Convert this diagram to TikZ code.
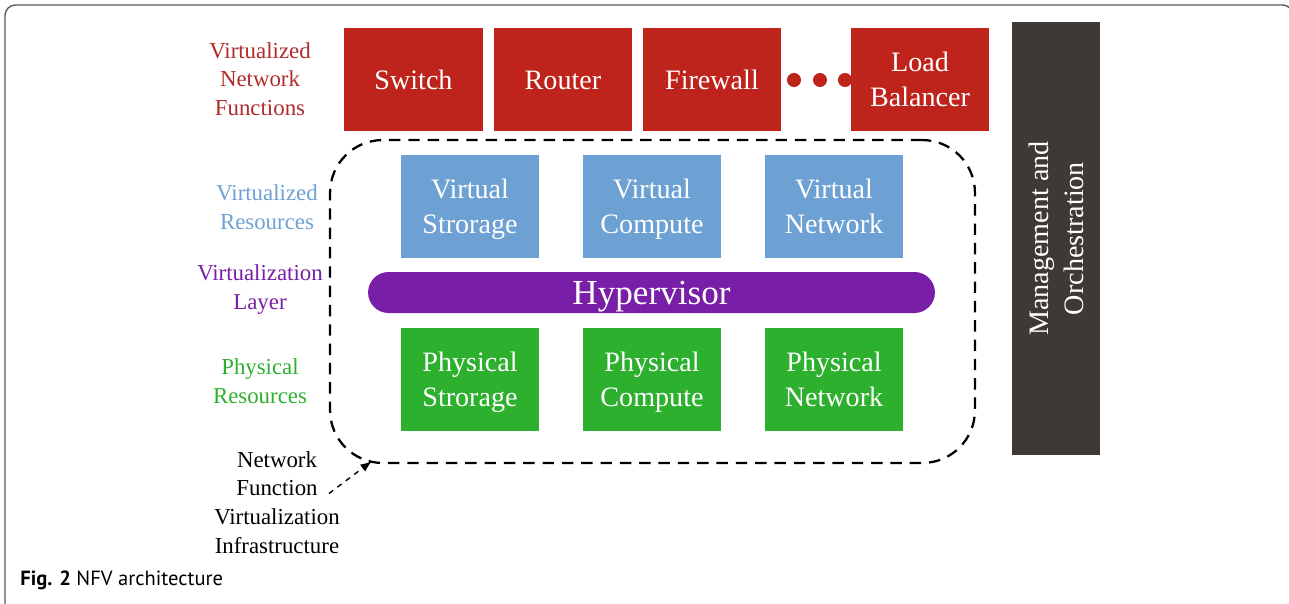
\documentclass[tikz,border=0pt]{standalone}
\usepackage{fontspec}
\setmainfont{Liberation Serif}
\newfontfamily\capfont{PT Sans}
\usepackage{xcolor}
\definecolor{nfvred}{RGB}{190, 36, 28}
\definecolor{nfvlabred}{RGB}{176, 42, 42}
\definecolor{nfvblue}{RGB}{110, 161, 211}
\definecolor{nfvpurple}{RGB}{121, 30, 166}
\definecolor{nfvgreen}{RGB}{44, 176, 46}
\definecolor{nfvdark}{RGB}{61, 57, 54}
\usetikzlibrary{arrows.meta, positioning, calc}

\begin{document}
\begin{tikzpicture}[x=0.02cm, y=-0.02cm, >=Latex,
    fbox/.style={minimum width=2.78cm, minimum height=2.06cm, inner sep=0pt,
        align=center, text=white, font=\fontsize{16}{20}\selectfont},
    sidelabel/.style={align=center, font=\fontsize{13}{16.4}\selectfont}]

\useasboundingbox (0,0) rectangle (1289,603);

% === Marco ===
\begin{scope}
    \clip (0,0) rectangle (1289,603);
    \draw[gray!70!black, line width=0.8pt, rounded corners=6pt] (5,5) rectangle (1293,640);
\end{scope}

% === Funciones de red virtualizadas ===
\node[sidelabel, text=nfvlabred] (vnflbl) at (260,79) {Virtualized\\Network\\Functions};
\foreach \x/\name/\label in {
    413.5/sw/Switch,
    563/rt/Router,
    712/fw/Firewall,
    920/lb/Load\\Balancer
} {
    \node[fbox, fill=nfvred] (\name) at (\x,79.5) {\rule{0pt}{17pt}\label\unskip\strut};
}
\foreach \x in {794, 820, 845} {
    \fill[nfvred] (\x,80) circle (4pt);
}

% === NFVI ===
\node[draw, dashed, line width=1.3pt, dash pattern=on 6.5pt off 4.5pt, rounded corners=30pt,
    minimum width=12.9cm, minimum height=6.46cm] (nfvi) at (652.5,301.5) {};

% Recursos virtuales
\node[sidelabel, text=nfvblue] (vreslbl) at (267,207.5) {Virtualized\\Resources};
\foreach \x/\name/\label in {
    470/vst/Virtual\\Strorage,
    652/vco/Virtual\\Compute,
    834/vnw/Virtual\\Network
} {
    \node[fbox, fill=nfvblue] (\name) at (\x,206.5) {\rule{0pt}{17pt}\label\unskip\strut};
}

% Hipervisor
\node[sidelabel, text=nfvpurple] (hyplbl) at (260,289.5) {Virtualization\\Layer};
\node[fill=nfvpurple, text=white, rounded corners=0.41cm, minimum width=11.34cm,
    minimum height=0.82cm, inner sep=0pt, text height=14pt, text depth=0pt,
    font=\fontsize{20}{24}\selectfont] (hyp) at (651.5,292.5) {Hypervisor};

% Recursos fisicos
\node[sidelabel, text=nfvgreen] (preslbl) at (260,381.5) {Physical\\Resources};
\foreach \x/\name/\label in {
    470/pst/Physical\\Strorage,
    652/pco/Physical\\Compute,
    834/pnw/Physical\\Network
} {
    \node[fbox, fill=nfvgreen] (\name) at (\x,379) {\rule{0pt}{17pt}\label\unskip\strut};
}

% Etiqueta NFVI
\node[sidelabel] (nfvilbl) at (277,502.5) {Network\\Function\\Virtualization\\Infrastructure};
\coordinate (tip) at ($(nfvi.south west)+(43,-3)$);
\draw[->, dashed, line width=0.8pt] ($(nfvilbl.east)+(-17,-9)$) -- (tip);

% === Gestion y orquestacion ===
\node[fill=nfvdark, text=white, rotate=90, minimum width=8.66cm, minimum height=1.76cm,
    align=center, font=\fontsize{16}{20}\selectfont] (mano) at (1056,238.5) {Management and\\Orchestration};

% === Pie ===
\node[anchor=base west, inner sep=0pt, font=\capfont\fontsize{11.7}{14}\selectfont] (caption) at (20,585)
    {\textbf{Fig. 2} NFV architecture};

\end{tikzpicture}
\end{document}
